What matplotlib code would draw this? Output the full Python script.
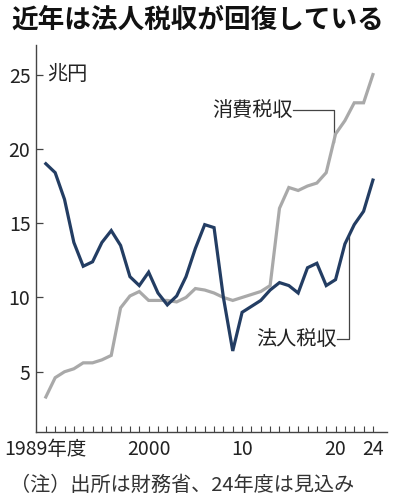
import matplotlib
matplotlib.use("Agg")
import matplotlib.pyplot as plt
import numpy as np

plt.rcParams['font.family'] = ['Noto Sans CJK JP', 'DejaVu Sans']

years = list(range(1989, 2025))
corporate_tax = [19.0, 18.4, 16.6, 13.7, 12.1, 12.4, 13.7, 14.5, 13.5, 11.4,
                 10.8, 11.7, 10.3, 9.5, 10.1, 11.4, 13.3, 14.9, 14.7, 10.0,
                 6.4, 9.0, 9.4, 9.8, 10.5, 11.0, 10.8, 10.3, 12.0, 12.3,
                 10.8, 11.2, 13.6, 14.9, 15.8, 17.9]
consumption_tax = [3.3, 4.6, 5.0, 5.2, 5.6, 5.6, 5.8, 6.1, 9.3, 10.1,
                   10.4, 9.8, 9.8, 9.8, 9.7, 10.0, 10.6, 10.5, 10.3, 10.0,
                   9.8, 10.0, 10.2, 10.4, 10.8, 16.0, 17.4, 17.2, 17.5, 17.7,
                   18.4, 21.0, 21.9, 23.1, 23.1, 25.0]
yticks = [5, 10, 15, 20, 25]
xtick_pos = [1989, 2000, 2010, 2020, 2024]
xtick_labels = ['1989年度', '2000', '10', '20', '24']

navy = '#233d63'
gray = '#a9a9a9'
txt = '#222222'

fig = plt.figure(figsize=(3.97, 5.04), dpi=100)
ax = fig.add_axes([0.0907, 0.143, 0.884, 0.768])

ax.plot(years, consumption_tax, color=gray, lw=2.3, solid_joinstyle='miter', zorder=2)
ax.plot(years, corporate_tax, color=navy, lw=2.3, solid_joinstyle='miter', zorder=3)

ax.set_xlim(1987.95, 2025.5)
ax.set_ylim(0.95, 27.0)

for s in ['top', 'right']:
    ax.spines[s].set_visible(False)
for s in ['left', 'bottom']:
    ax.spines[s].set_color('#444444')
    ax.spines[s].set_linewidth(1.0)

ax.set_yticks(yticks)
ax.set_yticklabels([str(v) for v in yticks])
ax.tick_params(axis='y', direction='in', length=5, width=0.9, color='#444444',
               labelsize=14, labelcolor=txt, pad=4)

ax.set_xticks(years, minor=True)
ax.set_xticks(xtick_pos)
ax.set_xticklabels(xtick_labels)
ax.tick_params(axis='x', which='both', direction='in', length=4, width=0.8,
               color='#444444', labelsize=14, labelcolor=txt, pad=5)

ax.text(1989.1, 25, '兆円', fontsize=14.5, color=txt, va='center', ha='left')

# consumption tax label with leader
lx1 = 2019.8
ly1 = 22.6
ax.text(2015.45, ly1, '消費税収', fontsize=14.5, color=txt, va='center', ha='right')
yc = np.interp(lx1, years, consumption_tax)
ax.plot([2015.5, lx1, lx1], [ly1, ly1, yc], color='#444444', lw=0.9, zorder=1)

# corporate tax label with leader
lx2 = 2021.4
ly2 = 7.2
ax.text(2020.1, ly2, '法人税収', fontsize=14.5, color=txt, va='center', ha='right')
yn = np.interp(lx2, years, corporate_tax)
ax.plot([2020.15, lx2, lx2], [ly2, ly2, yn], color='#444444', lw=0.9, zorder=1)

fig.text(0.03, 0.96, '近年は法人税収が回復している', fontsize=19.2, fontweight='bold',
         color='#111111', va='center', ha='left')
fig.text(0.025, 0.037, '（注）出所は財務省、24年度は見込み', fontsize=14.5,
         color='#333333', va='center', ha='left')

fig.savefig('out.png', dpi=100)
